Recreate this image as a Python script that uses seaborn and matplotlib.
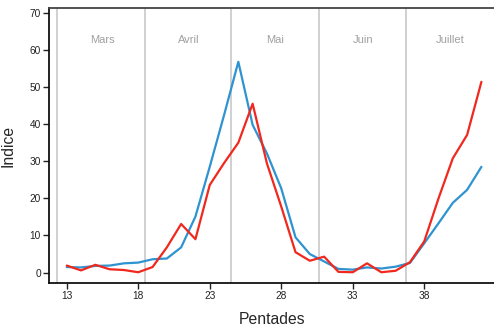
import numpy as np
import pandas as pd
import matplotlib
matplotlib.use("Agg")
import matplotlib.pyplot as plt
import seaborn as sns

pentades = list(range(13, 43))
serie_bleue = [1.5, 1.4, 1.8, 1.9, 2.5, 2.7, 3.6, 3.8, 6.8, 15.1, 28.5, 42.4, 56.8, 39.8, 32.1,
               22.7, 9.5, 5.0, 3.0, 1.0, 0.8, 1.4, 1.1, 1.6, 2.6, 7.9, 13.3, 18.8, 22.3, 28.5]
serie_rouge = [1.9, 0.6, 2.1, 0.9, 0.7, 0.1, 1.5, 6.8, 13.1, 9.0, 23.6, 29.5, 35.0, 45.5, 29.4,
               17.8, 5.5, 3.2, 4.3, 0.2, 0.1, 2.5, 0.1, 0.5, 2.8, 8.4, 20.0, 30.8, 37.1, 51.4]
mois = ["Mars", "Avril", "Mai", "Juin", "Juillet"]
mois_debut = [12.3, 18.47, 24.49, 30.66, 36.7]
mois_centre = [15.5, 21.5, 27.6, 33.7, 39.8]
xticks = [13, 18, 23, 28, 33, 38]
yticks = [0, 10, 20, 30, 40, 50, 60, 70]

df = pd.DataFrame({
    "Pentades": pentades * 2,
    "Indice": serie_bleue + serie_rouge,
    "serie": ["bleue"] * len(pentades) + ["rouge"] * len(pentades),
})

sns.set_theme(style="white")
plt.rcParams["font.family"] = ["Liberation Sans", "DejaVu Sans"]

fig = plt.figure(figsize=(4.94, 3.26), dpi=100)
ax = fig.add_axes([0.0998, 0.133, 0.9002, 0.8415])

for xv in mois_debut:
    ax.axvline(xv, color="#c8c8c8", lw=1.2, zorder=1)
for name, xc in zip(mois, mois_centre):
    ax.text(xc, 62.6, name, ha="center", va="center", color="#a0a0a0", fontsize=8)

sns.lineplot(data=df, x="Pentades", y="Indice", hue="serie",
             palette={"bleue": "#2e93d0", "rouge": "#f0281e"},
             linewidth=1.6, legend=False, ax=ax, zorder=3)

ax.set_xlim(11.78, 42.88)
ax.set_ylim(-2.7, 71.2)
ax.set_xticks(xticks)
ax.set_yticks(yticks)
ax.tick_params(axis="both", direction="out", length=4, width=1, labelsize=7.3,
               bottom=True, left=True, colors="#222222", pad=2)
ax.set_xlabel("Pentades", fontsize=11.3, labelpad=8)
ax.set_ylabel("Indice", fontsize=11.3, labelpad=10)

for s in ["left", "bottom"]:
    ax.spines[s].set_color("#111111")
    ax.spines[s].set_linewidth(1.3)
ax.spines["top"].set_color("#444444")
ax.spines["top"].set_linewidth(1.3)
ax.spines["right"].set_visible(False)

fig.savefig("out.png", dpi=100)
